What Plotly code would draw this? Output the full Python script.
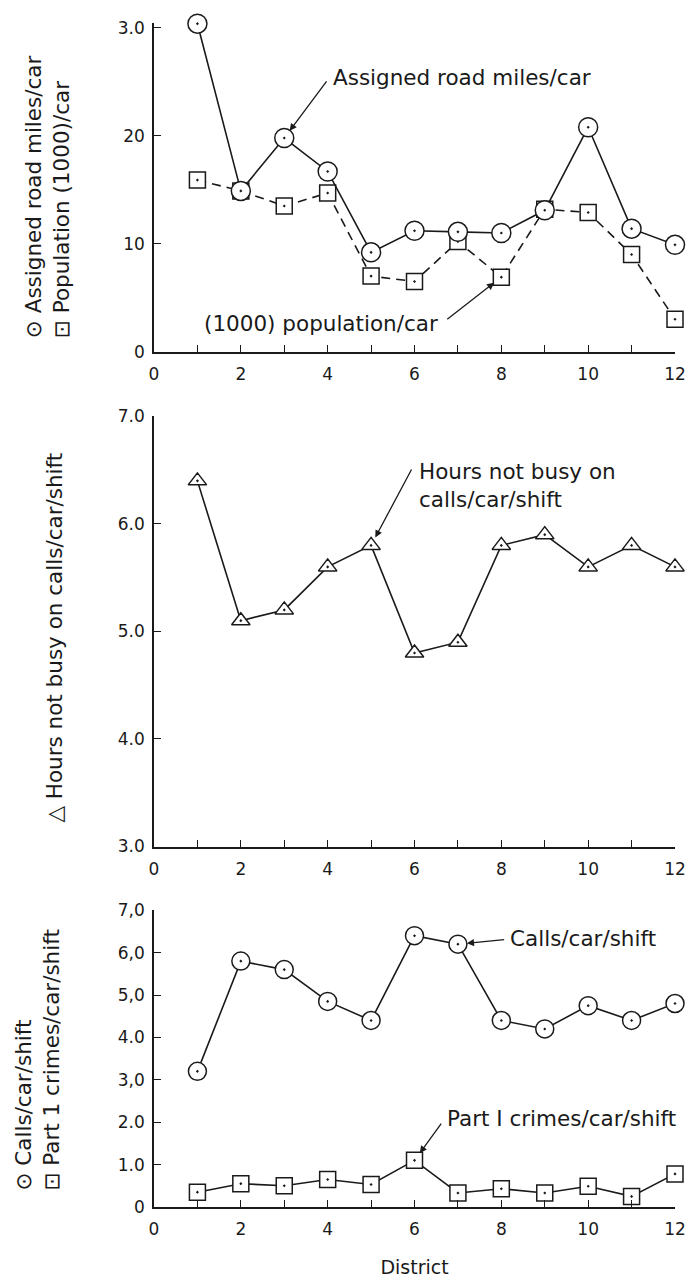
import plotly.graph_objects as go

districts = list(range(1, 13))
road_miles = [30.4, 14.9, 19.8, 16.7, 9.2, 11.2, 11.1, 11.0, 13.1, 20.8, 11.4, 9.9]
population = [15.9, 14.9, 13.5, 14.7, 7.0, 6.5, 10.2, 6.9, 13.2, 12.9, 9.0, 3.0]
hours_not_busy = [6.4, 5.1, 5.2, 5.6, 5.8, 4.8, 4.9, 5.8, 5.9, 5.6, 5.8, 5.6]
calls = [3.2, 5.8, 5.6, 4.85, 4.4, 6.4, 6.2, 4.4, 4.2, 4.75, 4.4, 4.8]
crimes = [0.35, 0.55, 0.5, 0.65, 0.53, 1.1, 0.33, 0.43, 0.33, 0.49, 0.25, 0.78]

x_tickvals = list(range(0, 13))
x_ticktext = [str(v) if v % 2 == 0 else "" for v in x_tickvals]
top_tickvals = [0, 10, 20, 30]
top_ticktext = ["0", "10", "20", "3.0"]
mid_tickvals = [3, 4, 5, 6, 7]
mid_ticktext = ["3.0", "4.0", "5.0", "6.0", "7.0"]
bot_tickvals = [0, 1, 2, 3, 4, 5, 6, 7]
bot_ticktext = ["0", "1.0", "2.0", "3,0", "4.0", "5,0", "6,0", "7,0"]

FONT = "DejaVu Sans"
INK = "#1a1a1a"

fig = go.Figure()

def add_series(x, y, xa, ya, symbol, size, dash="solid"):
    fig.add_trace(go.Scatter(
        x=x, y=y, xaxis=xa, yaxis=ya, mode="lines+markers",
        line=dict(color=INK, width=1.6, dash=dash),
        marker=dict(symbol=symbol, size=size, color="white",
                    line=dict(color=INK, width=1.5)),
        cliponaxis=False, showlegend=False, hoverinfo="skip"))

add_series(districts, population, "x", "y", "square-dot", 16, dash="9px,6px")
add_series(districts, road_miles, "x", "y", "circle-dot", 19)
add_series(districts, hours_not_busy, "x2", "y2", "triangle-up-dot", 16)
add_series(districts, calls, "x3", "y3", "circle-dot", 18)
add_series(districts, crimes, "x3", "y3", "square-dot", 16)

H = 1288
T, B = 17, 81
plot_h = H - T - B

def dom(top_px, bot_px):
    return [(H - B - bot_px) / plot_h, (H - B - top_px) / plot_h]

def py(px):
    return (H - B - px) / plot_h

xcommon = dict(range=[0, 12], tickvals=x_tickvals, ticktext=x_ticktext,
               ticks="inside", ticklen=7, tickwidth=1.3, tickcolor=INK,
               showline=True, linecolor=INK, linewidth=1.6, showgrid=False,
               zeroline=False, tickfont=dict(family=FONT, size=17, color=INK),
               ticklabelstandoff=6)
ycommon = dict(ticks="inside", ticklen=7, tickwidth=1.3, tickcolor=INK,
               showline=True, linecolor=INK, linewidth=1.6, showgrid=False,
               zeroline=False, tickfont=dict(family=FONT, size=17, color=INK),
               ticklabelstandoff=4)

fig.update_layout(
    width=698, height=H,
    margin=dict(l=154, r=14, t=T, b=B),
    paper_bgcolor="white", plot_bgcolor="white",
    font=dict(family=FONT, color=INK),
    xaxis=dict(domain=[0, 1], anchor="y", **xcommon),
    yaxis=dict(domain=dom(17.6, 348), anchor="x", range=[0, 30.5],
               tickvals=top_tickvals, ticktext=top_ticktext, **ycommon),
    xaxis2=dict(domain=[0, 1], anchor="y2", **xcommon),
    yaxis2=dict(domain=dom(413, 845), anchor="x2", range=[3, 7],
                tickvals=mid_tickvals, ticktext=mid_ticktext, **ycommon),
    xaxis3=dict(domain=[0, 1], anchor="y3",
                title=dict(text="District", font=dict(family=FONT, size=19), standoff=22),
                **xcommon),
    yaxis3=dict(domain=dom(909, 1207), anchor="x3", range=[0, 7],
                tickvals=bot_tickvals, ticktext=bot_ticktext, **ycommon),
)

TF = dict(family=FONT, size=21.5, color=INK)

# y-axis titles
ytitles = [
    ("\u2299 Assigned road miles/car<br>\u22a1 Population (1000)/car", -107, py(337)),
    ("\u25b3 Hours not busy on calls/car/shift", -99, py(823)),
    ("\u2299 Calls/car/shift<br>\u22a1 Part 1 crimes/car/shift", -116, py(1193)),
]
for text, xs, yp in ytitles:
    fig.add_annotation(text=text, xref="paper", yref="paper", x=0, y=yp,
                       xshift=xs, xanchor="center", yanchor="bottom",
                       textangle=-90, align="left", showarrow=False, font=TF)

# callouts: (text, xref, yref, text_x, text_y, xanchor, tail_x, tail_y, head_x, head_y)
callouts = [
    ("Assigned road miles/car", "x", "y", 4.08, 25.4, "left", 4.0, 25.2, 3, road_miles[2]),
    ("(1000) population/car", "x", "y", 6.59, 2.6, "right", 6.72, 2.9, 8, population[7]),
    ("Hours not busy on<br>calls/car/shift", "x2", "y2", 6.05, 6.36, "left", 5.95, 6.52, 5, hours_not_busy[4]),
    ("Calls/car/shift", "x3", "y3", 8.15, 6.34, "left", 8.1, 6.31, 7, calls[6]),
    ("Part I crimes/car/shift", "x3", "y3", 6.71, 2.09, "left", 6.64, 2.0, 6, crimes[5]),
]
for text, xr, yr, tx, ty, xa, ax, ay, hx, hy in callouts:
    fig.add_annotation(text=text, xref=xr, yref=yr, x=tx, y=ty, xanchor=xa,
                       yanchor="middle", align="left", showarrow=False, font=TF)
    fig.add_annotation(text="", xref=xr, yref=yr, x=hx, y=hy,
                       axref=xr, ayref=yr, ax=ax, ay=ay, showarrow=True,
                       arrowhead=2, arrowsize=1.1, arrowwidth=1.3,
                       arrowcolor=INK, standoff=9)

fig.write_html("out.html")
